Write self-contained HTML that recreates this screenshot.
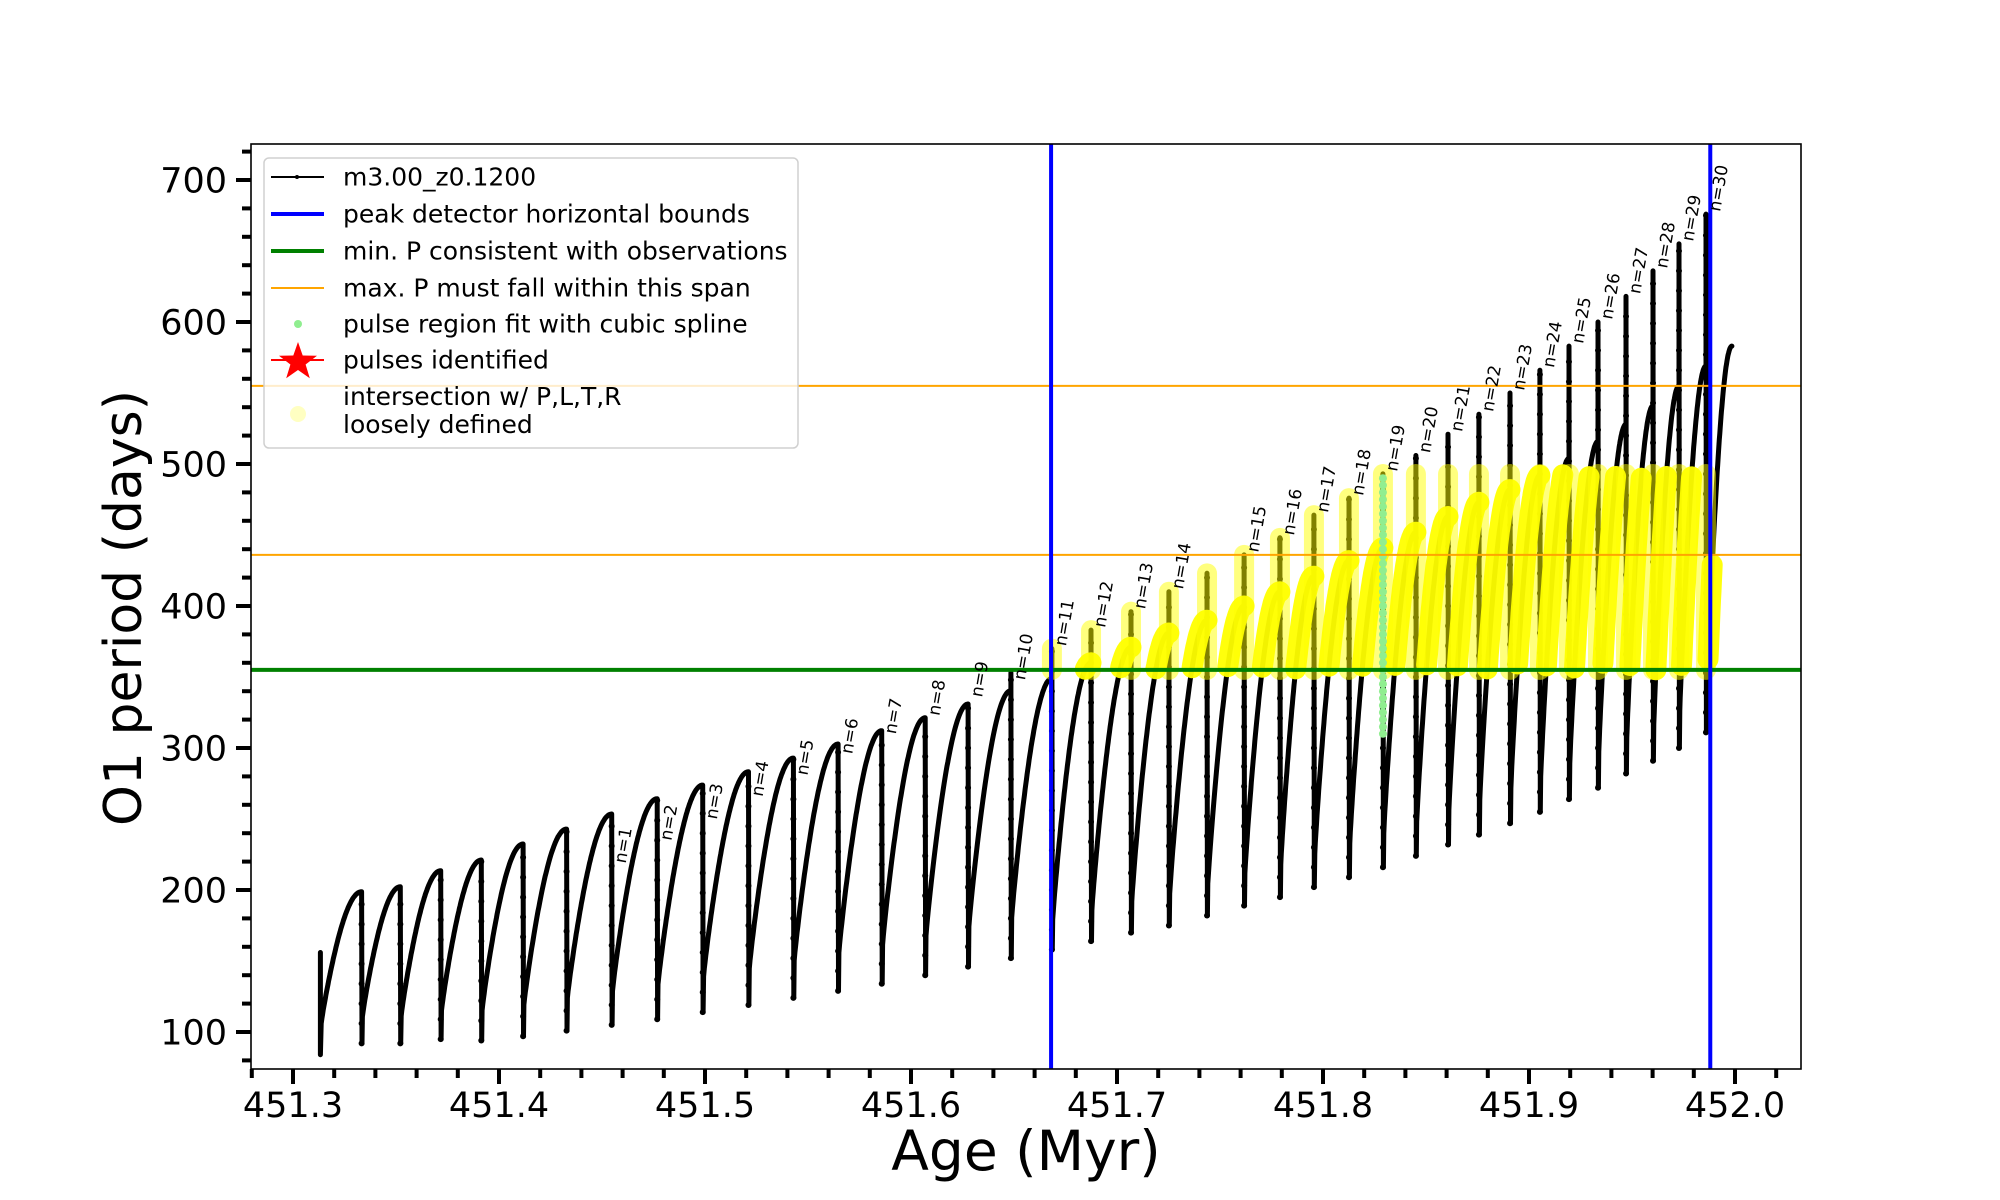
<!DOCTYPE html>
<html><head><meta charset="utf-8"><style>
html,body{margin:0;padding:0;background:#fff;}
svg{display:block;font-family:"DejaVu Sans","Liberation Sans",sans-serif;}
</style></head><body>
<svg id="chart" width="2000" height="1200" viewBox="0 0 2000 1200" xmlns="http://www.w3.org/2000/svg">
<g id="plot"></g>
</svg>
<script>
const dropAges = [451.3333,451.3521,451.3717,451.3914,451.4117,451.4328,451.4547,451.4768,451.4989,451.5211,451.5429,451.5646,451.5858,451.6069,451.6277,451.6485,
451.6684,451.6874,451.7068,451.7252,451.7437,451.7617,451.7791,451.7956,451.8126,451.8291,451.8451,451.8607,451.8757,451.8908,451.9053,451.9194,451.9335,451.9471,451.9602,451.9728,451.9859];
const peakVals = [198.8,202.3,213.6,221.1,232.4,242.9,253.5,264.3,273.9,283.3,292.9,302.8,312.2,321.3,331,340.4,
349,360,371,381,390,400,410,421,432,441,452,463,473,482,492,504,516,528,541,555,569];
const minVals = [92,92,95,94,97,101,105,109,114,119,124,129,134,140,146,152,
158,164,170,175,182,189,195,202,209,216,224,232,239,247,255,264,272,282,291,300,311];
const spikeVals = [198.8,202.3,213.6,221.1,232.4,242.9,253.5,264.3,273.9,283.3,292.9,302.8,312.2,321.3,331,353,
370,383,396,410,423,436,448,464,476,493,506,521,535,550,566,583,600,618,636,655,676];
const labelNums = [1,2,3,4,5,6,7,8,9,10,11,12,13,14,15,16,17,18,19,20,21,22,23,24,25,26,27,28,29,30];
const labelDrop = [6,7,8,9,10,11,12,13,14,15,16,17,18,19,21,22,23,24,25,26,27,28,29,30,31,32,33,34,35,36];
const labelVals = [217,233,248,264,279,294,308,321,334,346,370,383,396,410,436,448,464,476,493,506,521,535,550,566,583,600,618,636,655,676];
const startAge = 451.3133, startMin = 84, startSpike = 156, startRec = 106;
const endAge = 451.9985, endVal = 583;
const blueAges = [451.668, 451.988];
const minP = 355;
const maxPSpan = [436, 555];
const greenPulse = 25;
const greenRange = [310, 490];
const xTicks = [451.3,451.4,451.5,451.6,451.7,451.8,451.9,452.0];
const xTickLabels = ["451.3","451.4","451.5","451.6","451.7","451.8","451.9","452.0"];
const yTicks = [100,200,300,400,500,600,700];
const yTickLabels = ["100","200","300","400","500","600","700"];

const NS="http://www.w3.org/2000/svg";
const L=251,R=1801,T=144,B=1069;
const X=a=>293+(a-451.3)*2060;
const Y=v=>180+(700-v)*1.42;
const svg=document.getElementById('chart');
const g=document.getElementById('plot');
function el(tag,attrs,parent){const e=document.createElementNS(NS,tag);for(const k in attrs)e.setAttribute(k,attrs[k]);(parent||svg).appendChild(e);return e;}

const defs=el('defs',{});
const cp=el('clipPath',{id:'clip'},defs);
el('rect',{x:L,y:T,width:R-L,height:B-T},cp);
g.setAttribute('clip-path','url(#clip)');

const pts=[];
const arcs=[];
function arc(t0,t1,r,P,sEnd){
  const a=[];const N=60;
  for(let k=0;k<=N;k++){const s=k/N*sEnd;const t=t0+(t1-t0)*s;const v=r+(P-r)*Math.pow(Math.sin(s*Math.PI/2),0.9);a.push([t,v]);}
  return a;
}
pts.push([startAge,startSpike]);pts.push([startAge,startMin]);
let prevT=startAge,prevM=startMin,prevR=startRec;
for(let i=0;i<dropAges.length;i++){
  const t1=dropAges[i];const P=peakVals[i];
  const a=arc(prevT+0.0004,t1,prevR,P,1);
  arcs.push(a);
  pts.push(...a);
  pts.push([t1,spikeVals[i]]);
  pts.push([t1+0.0002,minVals[i]]);
  prevT=t1;prevM=minVals[i];
  prevR=prevM+ (i<16?0.12:0.08)*(peakVals[i]-prevM)+6;
}
const fin=arc(prevT+0.0004,endAge,prevR,endVal,1);
arcs.push(fin);pts.push(...fin);

const curve=el('polyline',{points:pts.map(p=>X(p[0]).toFixed(1)+','+Y(p[1]).toFixed(1)).join(' '),fill:'none',stroke:'#000','stroke-width':5,'stroke-linejoin':'round','stroke-linecap':'round'},g);



for(let i=0;i<dropAges.length;i++){
  const x=X(dropAges[i]);
  for(let v=minVals[i];v<spikeVals[i];v+=14){
    const d=el('circle',{cx:x,cy:Y(v),r:3,fill:'#000'},g);
    
    
  }
}

const yc=el('g',{opacity:0.5},g);


for(let i=0;i<dropAges.length;i++){
  const t=dropAges[i];
  if(t<blueAges[0]-0.001||t>blueAges[1]+0.001)continue;
  const top=Math.min(spikeVals[i],493);
  if(top<minP)continue;
  const c=el('line',{x1:X(t),x2:X(t),y1:Y(minP),y2:Y(top),stroke:'#ffff00','stroke-width':20,'stroke-linecap':'round'},yc);
  
  
}
const yg=el('g',{opacity:0.95},g);


arcs.forEach(a=>{
  let seg=[];
  const flush=()=>{if(seg.length>1){const p=el('polyline',{points:seg.join(' '),fill:'none',stroke:'#ffff00','stroke-width':21,'stroke-linecap':'round','stroke-linejoin':'round'},yg);}seg=[];};
  a.forEach(([t,v])=>{
    if(v>=minP&&v<=493&&t>=blueAges[0]-0.001&&t<=blueAges[1]+0.001)seg.push(X(t).toFixed(1)+','+Y(v).toFixed(1));
    else flush();
  });
  flush();
});
const gx=X(dropAges[greenPulse]);
for(let v=greenRange[0];v<=greenRange[1];v+=5){
  const d=el('circle',{cx:gx,cy:Y(v),r:4,fill:'#90ee90'},g);
  
  
}

maxPSpan.forEach(v=>{const l=el('line',{x1:L,x2:R,y1:Y(v),y2:Y(v),stroke:'#ffa500','stroke-width':2},g);});
const gl=el('line',{x1:L,x2:R,y1:Y(minP),y2:Y(minP),stroke:'#008000','stroke-width':4},g);


blueAges.forEach(a=>{const l=el('line',{x1:X(a),x2:X(a),y1:T,y2:B,stroke:'#0000ff','stroke-width':4},g);});

labelNums.forEach((n,k)=>{
  const x=X(dropAges[labelDrop[k]])+14, y=Y(labelVals[k])-2;
  const t=el('text',{x:x,y:y,'font-size':17,transform:`rotate(-80 ${x} ${y})`,fill:'#000'});
  t.textContent='n='+n;
  
  
});

const sp=el('rect',{x:L,y:T,width:R-L,height:B-T,fill:'none',stroke:'#000','stroke-width':1.6});



for(let a=451.28;a<=452.031;a+=0.02){
  const major=xTicks.some(m=>Math.abs(m-a)<1e-6);
  const tk=el('line',{x1:X(a),x2:X(a),y1:B,y2:B+(major?15:9),stroke:'#000','stroke-width':4});
  
  
}
xTicks.forEach((a,i)=>{const t=el('text',{x:X(a),y:1117,'font-size':35,'text-anchor':'middle'});t.textContent=xTickLabels[i];});
for(let v=80;v<=720;v+=20){
  const major=yTicks.includes(v);
  const tk=el('line',{x1:L,x2:L-(major?15:9),y1:Y(v),y2:Y(v),stroke:'#000','stroke-width':4});
  
  
}
yTicks.forEach((v,i)=>{const t=el('text',{x:227,y:Y(v)+12.5,'font-size':35,'text-anchor':'end'});t.textContent=yTickLabels[i];});

const xl=el('text',{x:1026,y:1170,'font-size':55,'text-anchor':'middle'});
xl.textContent='Age (Myr)';


const yl=el('text',{x:0,y:0,'font-size':52,'text-anchor':'middle',transform:'translate(141,608) rotate(-90)'});
yl.textContent='O1 period (days)';



const lg=el('g',{});


el('rect',{x:264,y:158,width:534,height:290,rx:5,fill:'#fff','fill-opacity':0.8,stroke:'#d0d0d0','stroke-width':1.5},lg);
const rows=[
 ['m3.00_z0.1200',177,'line','#000',2],
 ['peak detector horizontal bounds',214,'line','#0000ff',4],
 ['min. P consistent with observations',251,'line','#008000',4],
 ['max. P must fall within this span',288,'line','#ffa500',2],
 ['pulse region fit with cubic spline',324,'dot','#90ee90'],
 ['pulses identified',360,'star','#ff0000'],
];
rows.forEach(r=>{
  const [txt,y,kind,col,w]=r;
  if(kind==='line'){el('line',{x1:271,x2:324,y1:y,y2:y,stroke:col,'stroke-width':w},lg);if(txt.startsWith('m3'))el('circle',{cx:297,cy:y,r:2,fill:'#000'},lg);}
  else if(kind==='dot'){el('circle',{cx:298,cy:y,r:4,fill:col},lg);}
  else{el('line',{x1:271,x2:324,y1:y,y2:y,stroke:col,'stroke-width':2},lg);
    const pts=[];for(let k=0;k<10;k++){const ang=-Math.PI/2+k*Math.PI/5;const rr=k%2?8:20;pts.push((298+rr*Math.cos(ang)).toFixed(1)+','+(y+2+rr*Math.sin(ang)).toFixed(1));}
    el('polygon',{points:pts.join(' '),fill:col},lg);}
  const t=el('text',{x:343,y:y+8.5,'font-size':25},lg);t.textContent=txt;
  
  
});
el('circle',{cx:298,cy:414,r:8,fill:'#ffff99','fill-opacity':0.6},lg);
const t1=el('text',{x:343,y:405,'font-size':25},lg);t1.textContent='intersection w/ P,L,T,R';


const t2=el('text',{x:343,y:433,'font-size':25},lg);t2.textContent='loosely defined';


</script>
</body></html>
